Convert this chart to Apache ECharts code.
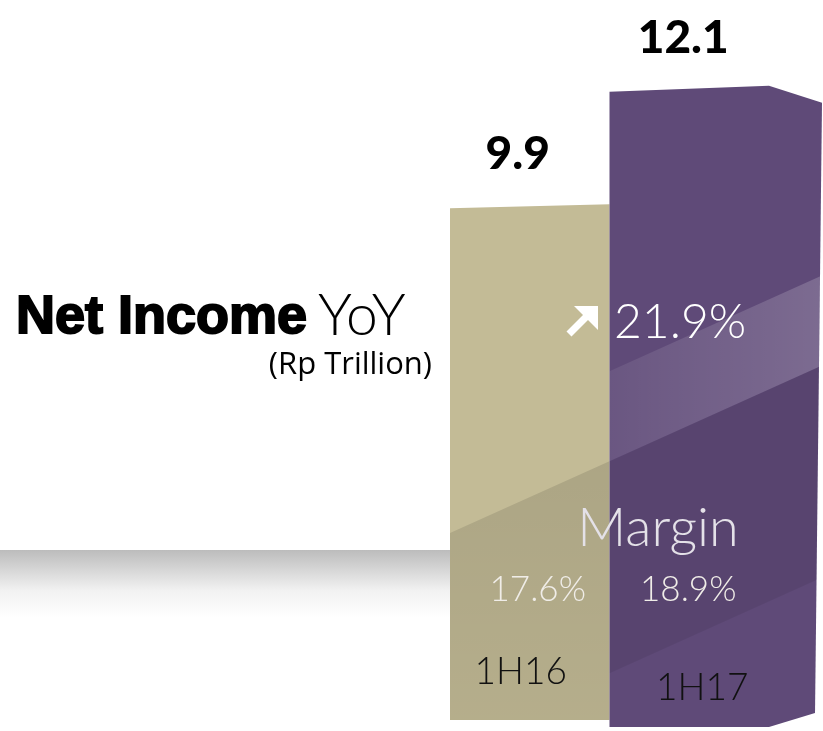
<!DOCTYPE html>
<html>
<head>
<meta charset="utf-8">
<script src="https://cdn.jsdelivr.net/npm/echarts@6/dist/echarts.min.js"></script>
<style>
  html, body { margin: 0; padding: 0; background: #fff; }
  #chart { width: 823px; height: 731px; }
</style>
</head>
<body>
<div id="chart"></div>
<script>
const categories = ['1H16', '1H17'];
const netIncome = [9.9, 12.1];
const marginPct = [17.6, 18.9];
const yoyGrowth = 21.9;

const barColors = ['#c3bb96', '#5f4a78'];
const thinFont = 'Lato, "Noto Sans", sans-serif';

// small hand tweaks so labels sit like in the slide
const valueShift = [-12, -6];
const catShift = [[-9, -53], [13, -37]];
const marginShift = [8, -1];
const bottomShift = [-5, 2];

function renderBar(params, api) {
  const i = params.dataIndex;
  const base = api.coord([api.value(0), 0]);
  const top = api.coord([api.value(0), api.value(1)]);
  const bw = api.size([1, 0])[0];
  const x0 = base[0] - bw / 2;
  const x1 = base[0] + bw / 2;
  const yb = base[1];
  const yt = top[1];
  const cs = params.coordSys;
  const yBot = yb + bottomShift[i];

  let outline = [[x0, yt + 4], [x1, yt], [x1, yBot], [x0, yBot]];
  if (i === categories.length - 1) {
    // visible side of the block
    outline = [[x0, yt + 3], [x1, yt - 3], [x1 + 53, yt + 14], [x1 + 46, yb - 12], [x1, yBot], [x0, yBot]];
  }

  // diagonal light bands, straight lines across the whole plot
  const lineY = (x, y0) => y0 - 0.45 * (x - cs.x);
  const xr = x1 + 60;
  const band = (ya, yb2, fill) => ({
    type: 'polygon',
    shape: { points: [[x0, lineY(x0, ya)], [xr, lineY(xr, ya)], [xr, lineY(xr, yb2)], [x0, lineY(x0, yb2)]] },
    style: { fill: fill },
    clipPath: { type: 'polygon', shape: { points: outline } }
  });
  const upper = yb - 282, lower = yb - 192, third = yb + 20;

  const children = [
    { type: 'polygon', shape: { points: outline }, style: { fill: barColors[i] } }
  ];
  if (i === 0) {
    children.push(band(lower, yb + 400, {
      type: 'linear', x: 0, y: 0, x2: 0, y2: 1,
      colorStops: [{ offset: 0, color: 'rgba(0,0,0,0.12)' }, { offset: 1, color: 'rgba(0,0,0,0.0)' }]
    }));
  } else {
    children.push(band(upper, lower, {
      type: 'linear', x: 0, y: 0, x2: 1, y2: 0,
      colorStops: [{ offset: 0, color: 'rgba(255,255,255,0.07)' }, { offset: 1, color: 'rgba(255,255,255,0.19)' }]
    }));
    children.push(band(lower, third, 'rgba(0,0,0,0.07)'));
  }

  children.push({
    type: 'text',
    style: {
      text: String(api.value(1)), x: base[0] + valueShift[i], y: yt - 50,
      align: 'center', verticalAlign: 'middle',
      font: '900 46px Lato, sans-serif', fill: '#000'
    }
  });
  children.push({
    type: 'text',
    style: {
      text: marginPct[i].toFixed(1) + '%', x: base[0] + marginShift[i], y: yb - 135,
      align: 'center', verticalAlign: 'middle',
      font: '300 35px ' + thinFont, fill: '#f0ede8',
      shadowColor: 'rgba(0,0,0,0.5)', shadowBlur: 6, shadowOffsetX: 3, shadowOffsetY: 3
    }
  });
  children.push({
    type: 'text',
    style: {
      text: categories[i], x: base[0] + catShift[i][0], y: yb + catShift[i][1],
      align: 'center', verticalAlign: 'middle',
      font: '300 37px ' + thinFont, fill: '#111'
    }
  });
  return { type: 'group', children: children };
}

const chart = echarts.init(document.getElementById('chart'));
chart.setOption({
  animation: false,
  grid: { left: 450, right: 54, top: 15, bottom: 6 },
  xAxis: { type: 'category', data: categories, show: false },
  yAxis: { type: 'value', min: 0, max: 13.5, show: false },
  graphic: [
    {
      type: 'rect', z: -1, shape: { x: 0, y: 550, width: 452, height: 68 },
      style: {
        fill: {
          type: 'linear', x: 0, y: 0, x2: 0, y2: 1,
          colorStops: [{ offset: 0, color: '#bcbcbc' }, { offset: 0.6, color: '#f2f2f2' }, { offset: 1, color: '#ffffff' }]
        }
      }
    },
    {
      type: 'text', left: 15, top: 290, z: 100,
      style: { text: 'Net Income', font: 'bold 54px "Liberation Sans", Arial, sans-serif', fill: '#000', stroke: '#000', lineWidth: 2 }
    },
    {
      type: 'text', left: 318, top: 288, z: 100,
      style: { text: 'YoY', font: '300 57px ' + thinFont, fill: '#000' }
    },
    {
      type: 'text', right: 391, top: 350, z: 100,
      style: { text: '(Rp Trillion)', font: '31px "Open Sans", sans-serif', fill: '#000' }
    },
    { type: 'line', z: 100, shape: { x1: 569, y1: 334, x2: 589, y2: 314 }, style: { stroke: '#fff', lineWidth: 7 } },
    { type: 'polygon', z: 100, shape: { points: [[598, 306], [598, 330], [574, 306]] }, style: { fill: '#fff' } },
    {
      type: 'text', z: 100, x: 614, y: 323,
      style: {
        text: yoyGrowth.toFixed(1) + '%', verticalAlign: 'middle',
        font: '300 48px ' + thinFont, fill: '#fff'
      }
    },
    {
      type: 'text', z: 100, x: 658, y: 529,
      style: {
        text: 'Margin', align: 'center', verticalAlign: 'middle',
        font: '300 54px ' + thinFont, fill: '#e4e1e8'
      }
    }
  ],
  series: [{
    type: 'custom',
    renderItem: renderBar,
    encode: { x: 0, y: 1 },
    data: categories.map((c, i) => [i, netIncome[i]])
  }]
});
</script>
</body>
</html>
